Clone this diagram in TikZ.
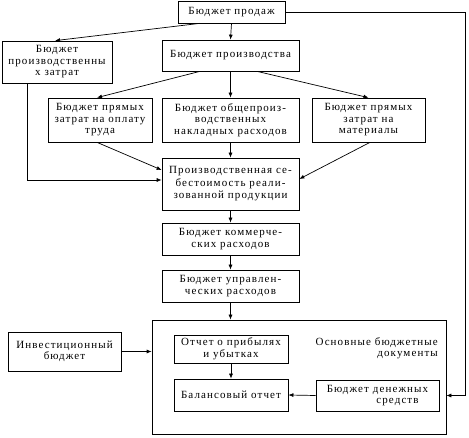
\documentclass[tikz,border=0pt]{standalone}
\usepackage{fontspec}
\setmainfont{Liberation Serif}[LetterSpace=10]
\usetikzlibrary{arrows.meta}
\begin{document}
\begin{tikzpicture}[x=1pt,y=-1pt,
  box/.style={draw, line width=0.7pt, align=center, inner sep=1pt, font=\fontsize{11}{11.5}\selectfont},
  arr/.style={draw, line width=0.7pt, -{Latex[length=5pt,width=4pt]}},
  ln/.style={draw, line width=0.7pt}]
\useasboundingbox (0,0) rectangle (469,438);
\node[box, minimum width=107pt, minimum height=22pt] (sales) at (231.5,12) {Бюджет продаж};
\node[box, minimum width=110pt, minimum height=42pt] (prodcost) at (57,62) {Бюджет\\производственны\\х затрат};
\node[box, minimum width=137pt, minimum height=31pt] (prod) at (230.5,55.5) {Бюджет производства};
\node[box, minimum width=104pt, minimum height=44pt] (labor) at (100,120) {Бюджет прямых\\затрат на оплату\\труда};
\node[box, minimum width=137pt, minimum height=44pt] (overhead) at (230.5,120) {Бюджет общепроиз-\\водственных\\накладных расходов};
\node[box, minimum width=113pt, minimum height=44pt] (materials) at (368.5,120) {Бюджет прямых\\затрат на\\материалы};
\node[box, minimum width=137pt, minimum height=52pt, font=\fontsize{11}{12.5}\selectfont] (cost) at (230.5,184) {Производственная се-\\бестоимость реали-\\зованной продукции};
\node[box, minimum width=137pt, minimum height=32pt] (comm) at (230.5,239) {Бюджет коммерче-\\ских расходов};
\node[box, minimum width=137pt, minimum height=32pt] (admin) at (230.5,286) {Бюджет управлен-\\ческих расходов};
\node[box, minimum width=294pt, minimum height=114pt] (cont) at (299,377) {};
\node[box, minimum width=113pt, minimum height=39pt] (invest) at (64.5,351.5) {Инвестиционный\\бюджет};
\node[box, minimum width=114pt, minimum height=28pt] (pnl) at (231,349) {Отчет о прибылях\\и убытках};
\node[box, minimum width=114pt, minimum height=32pt] (balance) at (231,395) {Балансовый отчет};
\node[box, minimum width=123pt, minimum height=31pt] (cash) at (377.5,395.5) {Бюджет денежных\\\hspace*{40pt}средств};
\node[align=right, anchor=north east, inner sep=0pt, font=\fontsize{11}{11.5}\selectfont] (doclabel) at (438,337) {Основные бюджетные\\документы};
\coordinate (rc) at (465,12);
\draw[arr] ([xshift=-31.5pt]sales.south) -- ([xshift=-2pt]prodcost.north);
\draw[arr] (sales.south) -- (prod.north);
\draw[arr] (sales.east) -- (sales.east -| rc) -- (rc |- cash) -- (cont.east |- cash);
\draw[arr] ([xshift=-30.5pt]prod.south) -- ([xshift=-3pt]labor.north);
\draw[arr] (prod.south) -- (overhead.north);
\draw[arr] ([xshift=26.5pt]prod.south) -- (materials.north);
\draw[arr] ([xshift=-3pt]labor.south) -- ([yshift=14pt]cost.west);
\draw[arr] (overhead.south) -- (cost.north);
\draw[arr] ([xshift=1.5pt]materials.south) -- ([yshift=5pt]cost.east);
\draw[arr] ([xshift=-30pt]prodcost.south) |- ([yshift=4pt]cost.west);
\draw[arr] (cost.south) -- (comm.north);
\draw[arr] (comm.south) -- (admin.north);
\draw[arr] (admin.south) -- (admin.south |- cont.north);
\draw[arr] (invest.east) -- (invest.east -| cont.west);
\draw[arr] (pnl.south) -- (balance.north);
\draw[arr] (cash.west) -- (balance.east);
\end{tikzpicture}
\end{document}
